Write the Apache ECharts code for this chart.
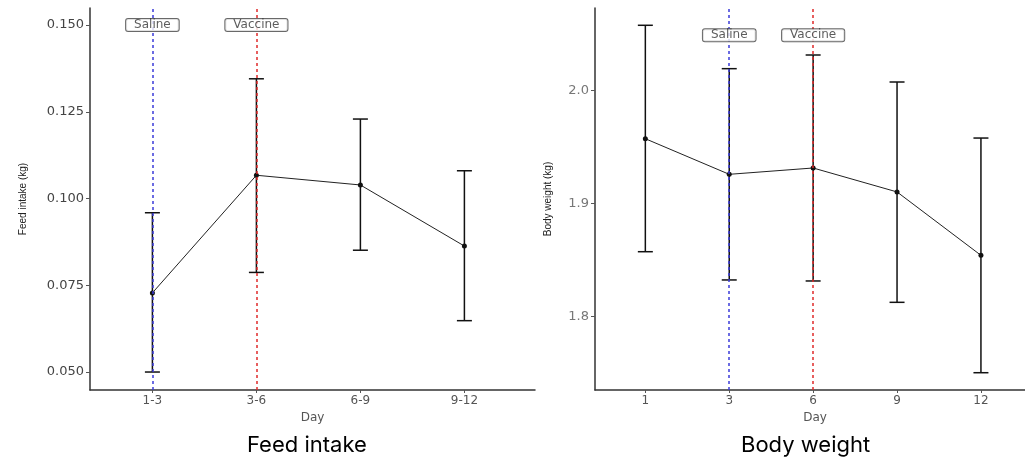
<!DOCTYPE html>
<html>
<head>
<meta charset="utf-8">
<script src="https://cdn.jsdelivr.net/npm/echarts@6.0.0/dist/echarts.min.js"></script>
<style>
  html, body { margin: 0; padding: 0; background: #fff; }
  #root { width: 1025px; height: 463px; }
</style>
</head>
<body>
<div id="root"></div>
<script>
// feed intake panel
const feedDays = ["1-3", "3-6", "6-9", "9-12"];
const feedMean = [0.0728, 0.1067, 0.1039, 0.0863];
const feedLow = [0.0500, 0.0787, 0.0851, 0.0648];
const feedHigh = [0.0959, 0.1345, 0.1229, 0.1080];
const feedTicks = [0.05, 0.075, 0.1, 0.125, 0.15];

// body weight panel
const bwDays = ["1", "3", "6", "9", "12"];
const bwMean = [1.9575, 1.926, 1.9316, 1.9104, 1.8543];
const bwLow = [1.8575, 1.8325, 1.8316, 1.8127, 1.7504];
const bwHigh = [2.0579, 2.0195, 2.0316, 2.0077, 1.9581];
const bwTicks = [1.8, 1.9, 2.0];

// treatment markers (category position, label height)
const feedMarks = [
  { name: "Saline", day: "1-3", y: 0.15, color: "#3b3bd9" },
  { name: "Vaccine", day: "3-6", y: 0.15, color: "#e02a2a" },
];
const bwMarks = [
  { name: "Saline", day: "3", y: 2.049, color: "#3b3bd9" },
  { name: "Vaccine", day: "6", y: 2.049, color: "#e02a2a" },
];

const chart = echarts.init(document.getElementById("root"), null, { renderer: "canvas" });

const axisColor = "#333";
const tickColor = "#555";

function xAxisFor(gridIndex, cats, max) {
  const pos = cats.map((c, i) => i + 1);
  return {
    gridIndex,
    type: "value",
    min: 0.4,
    max,
    name: "Day",
    nameLocation: "middle",
    nameGap: 20,
    nameTextStyle: { fontFamily: "DejaVu Sans", fontSize: 12, color: "#555" },
    splitLine: { show: false },
    axisLine: { show: true, lineStyle: { color: axisColor, width: 1.5 } },
    axisTick: { show: true, customValues: pos, length: 3, lineStyle: { color: tickColor } },
    axisLabel: {
      customValues: pos,
      margin: 5,
      fontFamily: "DejaVu Sans",
      fontSize: 12,
      color: "#555",
      formatter: (v) => cats[Math.round(v) - 1],
    },
  };
}

function yAxisFor(gridIndex, min, max, ticks, digits, name, gap, labelColor) {
  return {
    gridIndex,
    type: "value",
    min,
    max,
    name,
    nameLocation: "middle",
    nameRotate: 90,
    nameGap: gap,
    nameTextStyle: { fontFamily: "Liberation Sans", fontSize: 10, color: "#222" },
    splitLine: { show: false },
    axisLine: { show: true, lineStyle: { color: axisColor, width: 1.5 } },
    axisTick: { show: true, customValues: ticks, length: 4, lineStyle: { color: tickColor } },
    axisLabel: {
      customValues: ticks,
      margin: 6,
      fontFamily: "DejaVu Sans",
      fontSize: 13,
      color: labelColor,
      formatter: (v) => v.toFixed(digits),
    },
  };
}

function errorBars(xi, cats, low, high) {
  return {
    type: "custom",
    xAxisIndex: xi,
    yAxisIndex: xi,
    z: 2,
    data: cats.map((c, i) => [i + 1, low[i], high[i]]),
    renderItem: (params, api) => {
      const lo = api.coord([api.value(0), api.value(1)]);
      const hi = api.coord([api.value(0), api.value(2)]);
      const w = 7.5;
      const style = { stroke: "#111", lineWidth: 1.5 };
      return {
        type: "group",
        children: [
          { type: "line", shape: { x1: lo[0], y1: lo[1], x2: hi[0], y2: hi[1] }, style },
          { type: "line", shape: { x1: lo[0] - w, y1: lo[1], x2: lo[0] + w, y2: lo[1] }, style },
          { type: "line", shape: { x1: hi[0] - w, y1: hi[1], x2: hi[0] + w, y2: hi[1] }, style },
        ],
      };
    },
  };
}

function meanLine(xi, cats, mean) {
  return {
    type: "line",
    xAxisIndex: xi,
    yAxisIndex: xi,
    z: 4,
    data: cats.map((c, i) => [i + 1, mean[i]]),
    symbol: "circle",
    symbolSize: 5,
    itemStyle: { color: "#111" },
    lineStyle: { color: "#222", width: 1 },
    animation: false,
  };
}

function markers(xi, cats, marks) {
  return {
    type: "scatter",
    xAxisIndex: xi,
    yAxisIndex: xi,
    z: 5,
    symbolSize: 0,
    data: marks.map((m) => ({
      value: [cats.indexOf(m.day) + 1, m.y],
      label: {
        show: true,
        position: "inside",
        formatter: m.name,
        fontFamily: "DejaVu Sans",
        fontSize: 12,
        color: "#333",
        backgroundColor: "#fff",
        borderColor: "#444",
        borderWidth: 1,
        borderRadius: 2,
        padding: [0, 8, 0, 8],
      },
    })),
    markLine: {
      silent: true,
      symbol: "none",
      label: { show: false },
      animation: false,
      data: marks.map((m) => ({
        xAxis: cats.indexOf(m.day) + 1,
        lineStyle: { color: m.color, type: [3, 3], width: 1.5 },
      })),
    },
  };
}

const option = {
  backgroundColor: "#fff",
  animation: false,
  grid: [
    { left: 90, top: 8, width: 445, height: 382, outerBoundsMode: "none" },
    { left: 595, top: 8, width: 440, height: 382, outerBoundsMode: "none" },
  ],
  xAxis: [
    xAxisFor(0, feedDays, 0.4 + 445 / 104),
    xAxisFor(1, bwDays, 0.4 + 440 / 83.9),
  ],
  yAxis: [
    yAxisFor(0, 0.04482, 0.1549, feedTicks, 3, "Feed intake (kg)", 62, "#444"),
    yAxisFor(1, 1.7351, 2.0732, bwTicks, 1, "Body weight (kg)", 42, "#777"),
  ],
  series: [
    errorBars(0, feedDays, feedLow, feedHigh),
    markers(0, feedDays, feedMarks),
    meanLine(0, feedDays, feedMean),
    errorBars(1, bwDays, bwLow, bwHigh),
    markers(1, bwDays, bwMarks),
    meanLine(1, bwDays, bwMean),
  ],
  graphic: [
    {
      type: "text",
      left: 307 - 60,
      top: 434,
      style: { text: "Feed intake", font: '22px "Inter"', fill: "#000" },
    },
    {
      type: "text",
      left: 807 - 66,
      top: 434,
      style: { text: "Body weight", font: '22px "Inter"', fill: "#000" },
    },
  ],
};

chart.setOption(option);
</script>
</body>
</html>
